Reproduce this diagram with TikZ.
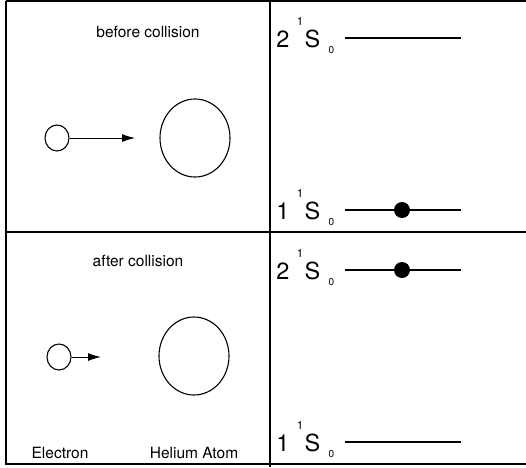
\documentclass[tikz,border=0pt]{standalone}
\usepackage{fontspec}
\setmainfont{TeX Gyre Heros}
\usetikzlibrary{shapes.geometric,arrows.meta}
\begin{document}
\begin{tikzpicture}[x=1pt,y=-1pt,
  txt/.style={font=\fontsize{15.5}{18}\selectfont},
  big/.style={font=\fontsize{23.5}{25}\selectfont,anchor=base,inner sep=0pt},
  supr/.style={font=\fontsize{11.5}{12}\selectfont,anchor=base,inner sep=0pt},
  subr/.style={font=\fontsize{10}{10}\selectfont,anchor=base,inner sep=0pt},
  ball/.style={draw,ellipse,line width=1.1pt,inner sep=0pt},
  lvl/.style={line width=1.3pt},
  dot/.style={fill,circle,inner sep=0pt,minimum size=16pt}]
\useasboundingbox (0,0) rectangle (526,467);
\draw[line width=1.3pt] (6,1) -- (526,1) (6,1) -- (6,464) -- (526,464) (6,232) -- (526,232) (270,0) -- (270,467);
\node[txt] (before) at (148,32) {before collision};
\node[txt] (after) at (138,261) {after collision};
\node[txt] (elabel) at (60,453) {Electron};
\node[txt] (hlabel) at (194,453) {Helium Atom};
\node[ball,minimum width=24pt,minimum height=26pt] (e1) at (57,138) {};
\node[ball,minimum width=70pt,minimum height=78pt] (he1) at (195,138) {};
\coordinate (e1tip) at (135,138);
\draw[line width=1pt,-{Latex[length=13pt,width=8pt]}] (e1) -- (e1tip);
\node[ball,minimum width=24pt,minimum height=26pt] (e2) at (59,357) {};
\node[ball,minimum width=70pt,minimum height=78pt] (he2) at (194,356) {};
\coordinate (e2tip) at (101,357);
\draw[line width=1pt,-{Latex[length=13pt,width=8pt]}] (e2) -- (e2tip);
\foreach \nm/\n/\y in {ua/2/38,ub/1/210,la/2/270,lb/1/442}{
  \node[big] (\nm-n) at (283,\y+9.5) {\n};
  \node[supr] (\nm-u) at (300,\y-13) {1};
  \node[big] (\nm-s) at (312.5,\y+9.5) {S};
  \node[subr] (\nm-d) at (331.5,\y+15) {0};
  \coordinate (\nm-a) at (345,\y);
  \coordinate (\nm-b) at (461,\y);
  \draw[lvl] (\nm-a) -- (\nm-b);}
\node[dot] (ub-e) at (402,210) {};
\node[dot] (la-e) at (402,270) {};
\end{tikzpicture}
\end{document}
